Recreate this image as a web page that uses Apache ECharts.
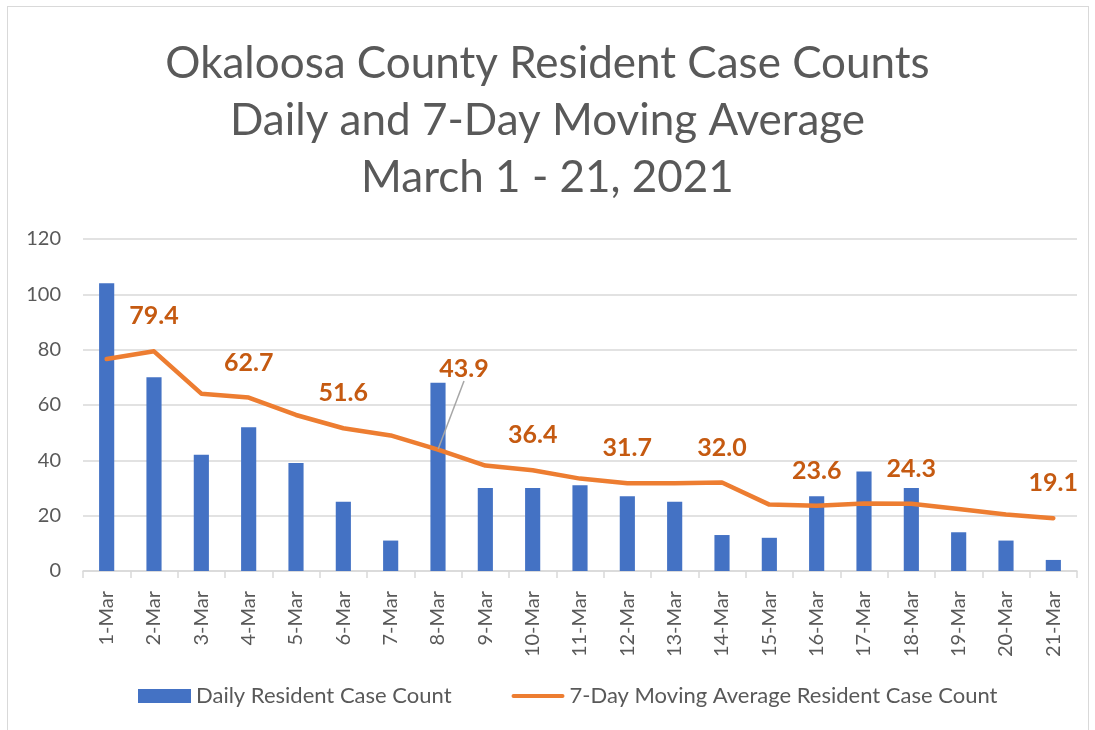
<!DOCTYPE html>
<html>
<head>
<meta charset="utf-8">
<script src="https://cdn.jsdelivr.net/npm/echarts@6/dist/echarts.min.js"></script>
<style>
    html, body { margin: 0; padding: 0; background: #fff; }
    #frame { position: absolute; left: 7px; top: 6px; width: 1080px; height: 730px; border: 1px solid #d9d9d9; border-bottom: none; }
    #chart { position: absolute; left: 0; top: 0; width: 1095px; height: 730px; }
</style>
</head>
<body>
<div id="frame"></div>
<div id="chart"></div>
<script>
// data
var days = ['1-Mar', '2-Mar', '3-Mar', '4-Mar', '5-Mar', '6-Mar', '7-Mar', '8-Mar', '9-Mar', '10-Mar',
    '11-Mar', '12-Mar', '13-Mar', '14-Mar', '15-Mar', '16-Mar', '17-Mar', '18-Mar', '19-Mar', '20-Mar', '21-Mar'];
var dailyCases = [104, 70, 42, 52, 39, 25, 11, 68, 30, 30, 31, 27, 25, 13, 12, 27, 36, 30, 14, 11, 4];
var movingAvg = [76.6, 79.4, 64.1, 62.7, 56.4, 51.6, 49.0, 43.9, 38.1, 36.4, 33.4, 31.7, 31.7, 32.0,
    24.0, 23.6, 24.4, 24.3, 22.4, 20.4, 19.1];
var labelled = [1, 3, 5, 7, 9, 11, 13, 15, 17, 20]; // points that carry a value label
var titleLines = ['Okaloosa County Resident Case Counts', 'Daily and 7-Day Moving Average', 'March 1 - 21, 2021'];

var font = 'Lato';
var orange = '#ED7D31';
var myChart = echarts.init(document.getElementById('chart'));

var avgData = movingAvg.map(function (v, i) {
    return {
        value: v,
        label: {show: labelled.indexOf(i) >= 0},
        labelLine: {show: i === 7}  // only 8-Mar label is pulled away with a leader line
    };
});

var option = {
    animation: false,
    textStyle: {fontFamily: font},
    title: {
        text: titleLines.join('\n'),
        left: 'center',
        top: 30,
        textStyle: {fontFamily: font, fontSize: 44, fontWeight: 'normal', color: '#595959', lineHeight: 57}
    },
    legend: {
        bottom: 18,
        left: 133,
        itemGap: 60,
        itemWidth: 53,
        itemHeight: 14,
        textStyle: {fontFamily: font, fontSize: 22, color: '#595959'},
        data: [
            {name: 'Daily Resident Case Count', icon: 'rect'},
            {name: '7-Day Moving Average Resident Case Count',
                icon: 'path://M2,0 L51,0 A2,2 0 0 1 51,4 L2,4 A2,2 0 0 1 2,0 Z',
                itemStyle: {color: orange, opacity: 1}}
        ]
    },
    grid: {left: 83, right: 18, top: 239, bottom: 159, containLabel: false},
    xAxis: {
        type: 'category',
        data: days,
        axisLine: {lineStyle: {color: '#d9d9d9', width: 1.5}},
        axisTick: {show: true, length: 7, lineStyle: {color: '#d9d9d9', width: 1.5}},
        axisLabel: {rotate: 90, fontFamily: font, fontSize: 20, color: '#595959', margin: 20}
    },
    yAxis: {
        type: 'value',
        min: 0,
        max: 120,
        interval: 20,
        axisLine: {show: false},
        axisTick: {show: false},
        axisLabel: {fontFamily: font, fontSize: 20, color: '#595959', margin: 22},
        splitLine: {lineStyle: {color: '#d9d9d9', width: 1.5}}
    },
    series: [
        {
            name: 'Daily Resident Case Count',
            type: 'bar',
            data: dailyCases,
            barWidth: '32%',
            itemStyle: {color: '#4472C4'}
        },
        {
            name: '7-Day Moving Average Resident Case Count',
            type: 'line',
            data: avgData,
            symbol: 'circle',
            symbolSize: 1,
            showAllSymbol: true,
            lineStyle: {color: orange, width: 4.5, cap: 'round', join: 'round'},
            itemStyle: {color: 'rgba(0,0,0,0)', borderWidth: 0},
            label: {
                position: 'top',
                distance: 22,
                fontFamily: font,
                fontSize: 25,
                fontWeight: 'bold',
                color: '#C55A11',
                formatter: function (p) { return p.value.toFixed(1); }
            },
            labelLine: {lineStyle: {color: '#a6a6a6', width: 1.5}},
            labelLayout: function (p) {
                if (p.dataIndex === 7) {
                    return {dx: 26, dy: -46};
                }
                return {};
            }
        }
    ]
};

myChart.setOption(option);
</script>
</body>
</html>
